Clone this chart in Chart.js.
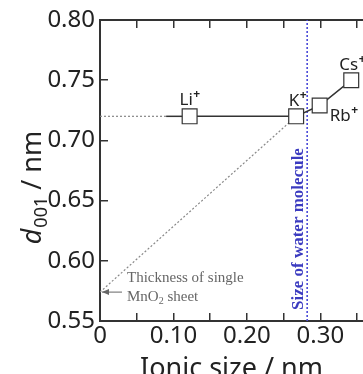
<!DOCTYPE html>
<html>
<head>
<meta charset="utf-8">
<script src="https://cdn.jsdelivr.net/npm/chart.js@4/dist/chart.umd.min.js"></script>
<style>
  html, body { margin: 0; padding: 0; background: #fff; overflow: hidden; }
  canvas { display: block; }
</style>
</head>
<body>
<canvas id="chart" width="363" height="374"></canvas>
<script>
// ---- data ----
const ions = ["Li", "K", "Rb", "Cs"];
const ionicSize = [0.122, 0.267, 0.299, 0.342];
const d001 = [0.72, 0.72, 0.729, 0.75];

const leadX = [0, 0.09, 0.122];         // dotted guide then short solid lead into Li+
const leadY = [0.72, 0.72, 0.72];
const sheetThickness = 0.574;           // arrow on y axis
const diagX = [0, 0.267];
const diagY = [sheetThickness, 0.72];
const waterSize = 0.282;

const xTickLabels = ["0", "0.10", "0.20", "0.30"];
const yTickLabels = ["0.55", "0.60", "0.65", "0.70", "0.75", "0.80"];

const AXIS = "#333";
const FONT = "'Noto Sans', 'Open Sans', sans-serif";

function pts(xs, ys) { return xs.map((x, i) => ({ x: x, y: ys[i] })); }

// ---- extra text / marks ----
const annotations = {
  id: "annotations",
  afterDatasetsDraw(chart) {
    const ctx = chart.ctx;
    const xs = chart.scales.x, ys = chart.scales.y;
    const area = chart.chartArea;
    ctx.save();

    // ion labels with superscript +
    const offs = [[0, -11, "center"], [10, -10, "right"], [10, 16, "left"], [-12, -10, "left"]];
    ions.forEach((name, i) => {
      const px = xs.getPixelForValue(ionicSize[i]);
      const py = ys.getPixelForValue(d001[i]);
      const [dx, dy, align] = offs[i];
      ctx.font = "17px " + FONT;
      const w1 = ctx.measureText(name).width;
      ctx.font = "bold 12px " + FONT;
      const w2 = ctx.measureText("+").width;
      let x0 = px + dx;
      if (align === "center") x0 -= (w1 + w2) / 2;
      if (align === "right") x0 -= (w1 + w2);
      ctx.fillStyle = "#222";
      ctx.textBaseline = "alphabetic";
      ctx.textAlign = "left";
      ctx.font = "17px " + FONT;
      ctx.fillText(name, x0, py + dy);
      ctx.font = "bold 12px " + FONT;
      ctx.fillText("+", x0 + w1 + 0.5, py + dy - 7);
    });

    // water molecule label
    const wx = xs.getPixelForValue(waterSize);
    ctx.save();
    ctx.translate(wx - 4, area.bottom - 11);
    ctx.rotate(-Math.PI / 2);
    ctx.font = "bold 17px 'Liberation Serif', serif";
    ctx.fillStyle = "#3b3bc0";
    ctx.textAlign = "left";
    ctx.fillText("Size of water molecule", 0, 0);
    ctx.restore();

    // MnO2 sheet note + arrow
    const ay = ys.getPixelForValue(sheetThickness);
    ctx.fillStyle = "#666";
    ctx.strokeStyle = "#666";
    ctx.font = "15px 'Liberation Serif', serif";
    const tx = area.left + 27;
    ctx.fillText("Thickness of single", tx, ay - 10);
    ctx.fillText("MnO", tx, ay + 9);
    const wMno = ctx.measureText("MnO").width;
    ctx.font = "10px 'Liberation Serif', serif";
    ctx.fillText("2", tx + wMno, ay + 12);
    ctx.font = "15px 'Liberation Serif', serif";
    ctx.fillText(" sheet", tx + wMno + 5, ay + 9);

    ctx.lineWidth = 1;
    ctx.beginPath();
    ctx.moveTo(area.left + 22, ay);
    ctx.lineTo(area.left + 2, ay);
    ctx.stroke();
    ctx.beginPath();
    ctx.moveTo(area.left + 2, ay);
    ctx.lineTo(area.left + 9, ay - 3);
    ctx.lineTo(area.left + 9, ay + 3);
    ctx.closePath();
    ctx.fill();

    // y axis title: d001 / nm
    ctx.save();
    ctx.translate(41, 188);
    ctx.rotate(-Math.PI / 2);
    ctx.fillStyle = "#222";
    ctx.textAlign = "left";
    const fMain = "27px " + FONT, fIt = "italic 27px " + FONT, fSub = "18px " + FONT;
    ctx.font = fIt; const wd = ctx.measureText("d").width;
    ctx.font = fSub; const ws = ctx.measureText("001").width;
    ctx.font = fMain; const wr = ctx.measureText(" / nm").width;
    let u = -(wd + ws + wr) / 2;
    ctx.font = fIt; ctx.fillText("d", u, 0); u += wd + 1;
    ctx.font = fSub; ctx.fillText("001", u, 6); u += ws;
    ctx.font = fMain; ctx.fillText(" / nm", u, 0);
    ctx.restore();

    ctx.restore();
  }
};

const tickGrid = { drawOnChartArea: false, tickLength: -8, color: AXIS, lineWidth: 1.5 };
const border = { display: true, color: AXIS, width: 2 };
const flatX = (h) => (s) => { s.height = h; s.paddingLeft = 0; s.paddingRight = 0; };

new Chart(document.getElementById("chart"), {
  type: "line",
  data: {
    datasets: [
      {
        data: pts(ionicSize, d001),
        borderColor: "#333",
        borderWidth: 1.5,
        pointStyle: "rect",
        pointRadius: 10.5,
        pointBackgroundColor: "#fff",
        pointBorderColor: "#333",
        pointBorderWidth: 1.2,
        tension: 0
      },
      {
        data: pts(leadX.slice(1), leadY.slice(1)),
        borderColor: "#333",
        borderWidth: 1.5,
        pointRadius: 0
      },
      {
        data: pts(leadX.slice(0, 2), leadY.slice(0, 2)),
        borderColor: "#888",
        borderWidth: 1.2,
        borderDash: [2, 2],
        pointRadius: 0
      },
      {
        data: pts(diagX, diagY),
        borderColor: "#888",
        borderWidth: 1.2,
        borderDash: [2, 2],
        pointRadius: 0
      },
      {
        data: pts([waterSize, waterSize], [0.55, 0.80]),
        borderColor: "#4a4ad8",
        borderWidth: 1.6,
        borderDash: [2, 2],
        pointRadius: 0
      }
    ]
  },
  options: {
    responsive: false,
    animation: false,
    devicePixelRatio: 1,
    layout: { autoPadding: false, padding: { top: 20, right: 0, bottom: 0, left: 0 } },
    plugins: { legend: { display: false }, tooltip: { enabled: false } },
    scales: {
      x: {
        type: "linear",
        position: "bottom",
        min: 0,
        max: 0.358,
        ticks: {
          stepSize: 0.05,
          includeBounds: false,
          autoSkip: false,
          maxRotation: 0,
          padding: 9,
          color: "#222",
          font: { family: FONT, size: 24 },
          callback: (v) => {
            const r = Math.round(v * 100);
            return r % 10 === 0 ? xTickLabels[r / 10] : "";
          }
        },
        grid: tickGrid,
        border: border,
        title: {
          display: true,
          text: "Ionic size / nm",
          color: "#222",
          font: { family: FONT, size: 27 },
          padding: { top: 0, bottom: -12 }
        },
        afterFit: flatX(53)
      },
      x2: {
        type: "linear",
        position: "top",
        min: 0,
        max: 0.358,
        ticks: { stepSize: 0.05, includeBounds: false, display: false },
        grid: tickGrid,
        border: border,
        afterFit: flatX(0)
      },
      y: {
        min: 0.55,
        max: 0.80,
        ticks: {
          stepSize: 0.05,
          padding: 13,
          color: "#222",
          font: { family: FONT, size: 24 },
          callback: (v) => yTickLabels[Math.round((v - 0.55) * 20)]
        },
        grid: tickGrid,
        border: border,
        afterFit: (s) => { s.width = 100; s.paddingTop = 0; s.paddingBottom = 0; }
      }
    }
  },
  plugins: [annotations]
});
</script>
</body>
</html>
